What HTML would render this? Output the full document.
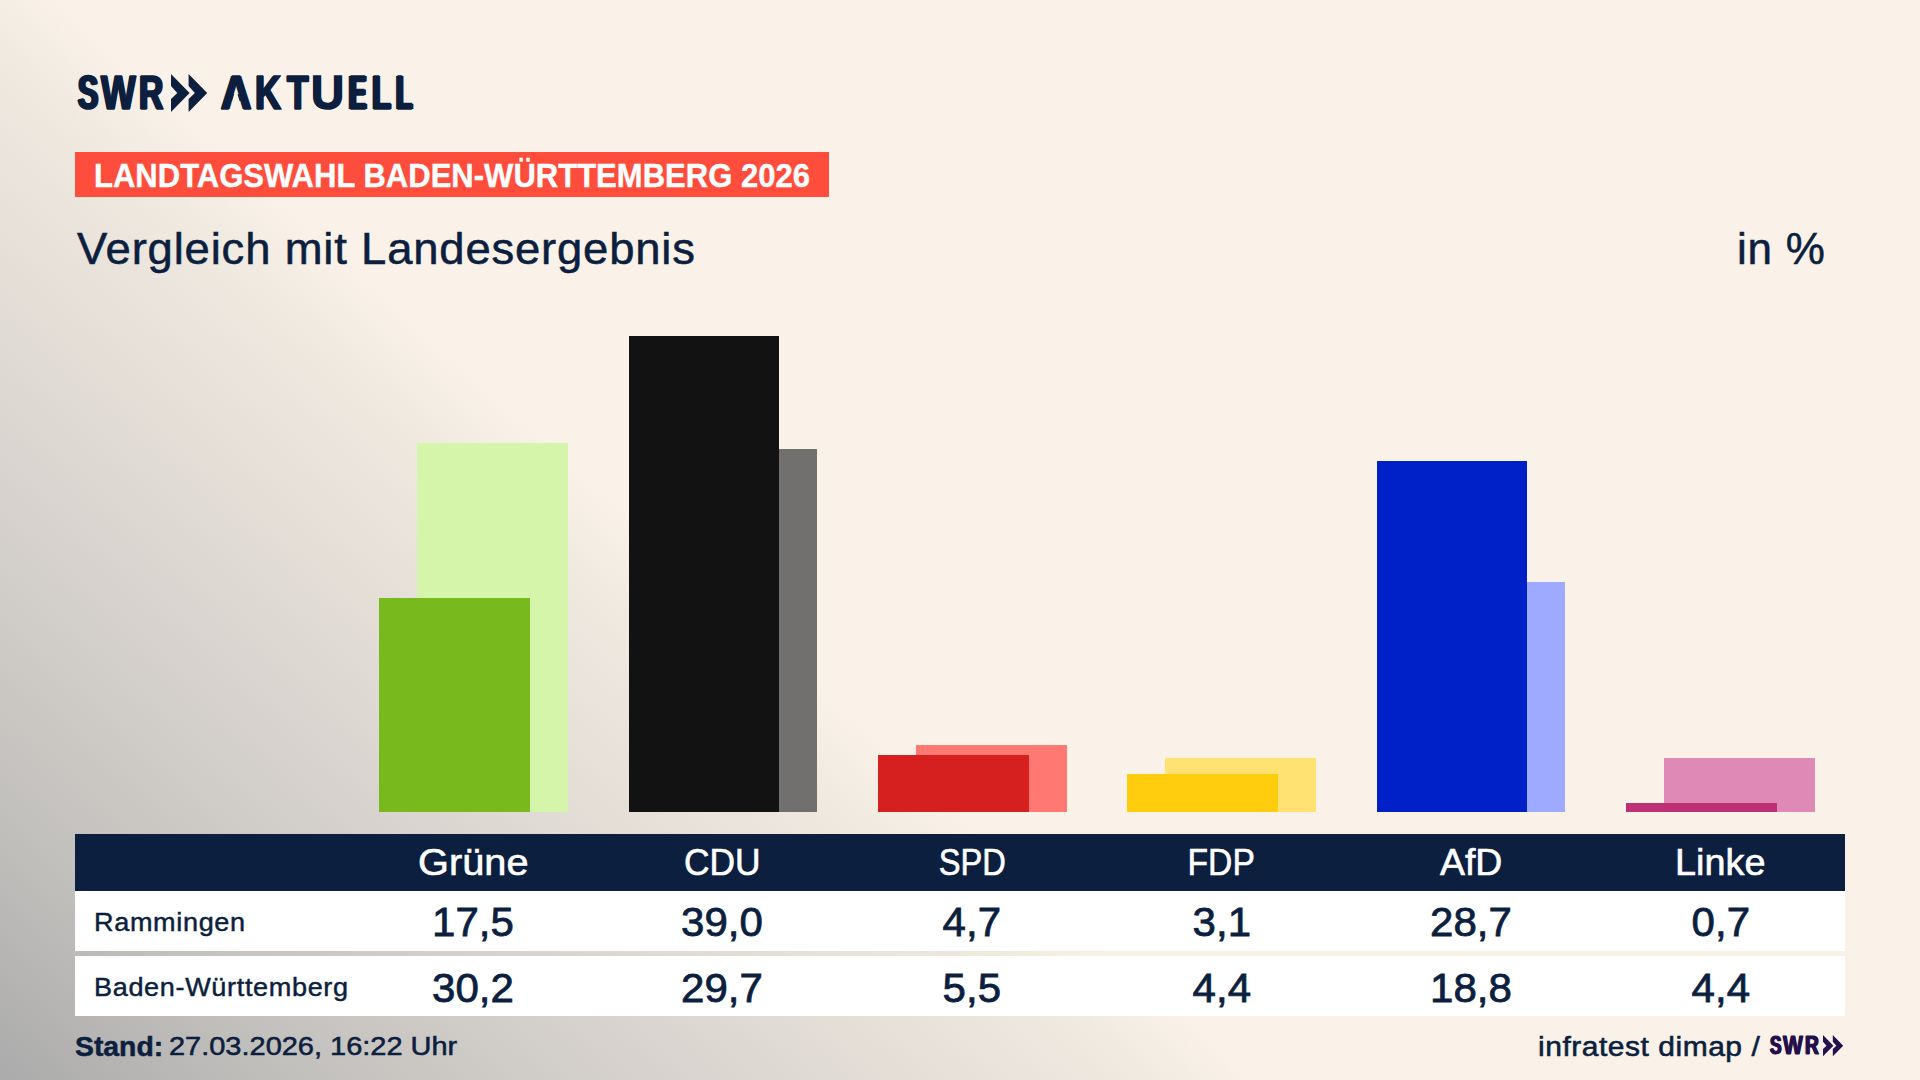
<!DOCTYPE html>
<html lang="de">
<head>
<meta charset="utf-8">
<title>Landtagswahl Baden-Württemberg 2026 – Vergleich mit Landesergebnis</title>
<style>
*{margin:0;padding:0;box-sizing:border-box}
html,body{width:1920px;height:1080px;overflow:hidden}
body{position:relative;font-family:"Liberation Sans",sans-serif;color:#0c1f3f;background:#faf2e8}
.bg{position:absolute;left:0;top:0;width:1920px;height:1080px;
 background:linear-gradient(42deg,#ababab 0%,#c1bfbc 9.25%,#d0ccc8 17.1%,#dcd7d1 24.2%,#f0e9e0 36.4%,#faf2e8 40.3%,#faf2e8 100%);}
.abs{position:absolute;white-space:nowrap;line-height:1}
.sx{display:inline-block;transform-origin:0 0;white-space:nowrap}
.sc{display:inline-block;transform-origin:50% 0;white-space:nowrap}
/* logo */
.lg{position:absolute;display:block;font-weight:bold;font-size:47.5px;line-height:1;-webkit-text-stroke:1.6px #0c1f3f;transform-origin:0 0;white-space:nowrap}
#chev{position:absolute;left:171.4px;top:73.7px}
/* banner */
#banner{position:absolute;left:75px;top:152px;width:754px;height:44.5px;background:#fe4d3c}
#banner-t{left:93.8px;top:158.9px;font-weight:bold;font-size:33.6px;color:#fff;-webkit-text-stroke:.4px #fff}
#title{left:77px;top:227.2px;font-size:43.7px;letter-spacing:.8px;-webkit-text-stroke:.55px #0c1f3f}
#inpct{left:1737px;top:227.2px;font-size:44.5px;letter-spacing:.8px;-webkit-text-stroke:.55px #0c1f3f}
/* bars */
.bar{position:absolute;width:150.7px}
/* table */
#thead{position:absolute;left:75px;top:834px;width:1770px;height:57px;background:#0c1f3f}
.row{position:absolute;left:75px;width:1770px;background:#fff}
#row1{top:890.5px;height:60.5px}
#row2{top:956px;height:60px}
.hl{position:absolute;top:845.4px;width:260px;text-align:center;font-size:36.2px;color:#fff;-webkit-text-stroke:.6px #fff;line-height:1;white-space:nowrap}
.v{position:absolute;width:260px;text-align:center;font-size:40px;-webkit-text-stroke:.8px #0c1f3f;line-height:1;white-space:nowrap}
.r1{top:902.1px}.r2{top:967.5px}
.rl{position:absolute;left:94px;font-size:24.9px;letter-spacing:.6px;-webkit-text-stroke:.45px #0c1f3f;line-height:1;white-space:nowrap}
#stand{left:75px;top:1033.8px;font-size:27px;font-weight:bold;-webkit-text-stroke:.5px #0c1f3f}
#standd{left:169.3px;top:1033.4px;font-size:26px;-webkit-text-stroke:.55px #0c1f3f}
#src{left:1538px;top:1031.7px;font-size:28.4px;letter-spacing:.5px;-webkit-text-stroke:.6px #0c1f3f}
.lgs{font-size:26.4px;-webkit-text-stroke:.9px #24104a;color:#24104a}
#chev2{position:absolute;left:1823.4px;top:1034.5px}
</style>
</head>
<body>
<div class="bg"></div>

<!-- logo -->
<div id="logo-swr"><span class="lg" style="left:77.99px;top:69.3px;transform:scaleX(0.636);text-shadow:2.37px 0 0 #0c1f3f,-2.37px 0 0 #0c1f3f;">S</span><span class="lg" style="left:100.92px;top:69.3px;transform:scaleX(0.772);text-shadow:1.23px 0 0 #0c1f3f,-1.23px 0 0 #0c1f3f;">W</span><span class="lg" style="left:138.76px;top:69.3px;transform:scaleX(0.706);text-shadow:1.73px 0 0 #0c1f3f,-1.73px 0 0 #0c1f3f;">R</span></div>
<svg id="chev" width="37" height="38" viewBox="0 0 37 38"><g fill="#0c1f3f"><polygon points="0,0 18.6,19 0,38 0,25 6.3,19 0,12"/><polygon points="17.6,0 36.2,19 17.6,38 17.6,25 23.9,19 17.6,12"/></g></svg>
<div id="logo-akt"><span class="lg" style="left:220.87px;top:69.3px;transform:scaleX(0.878);text-shadow:1.79px 0 0 #0c1f3f,-1.79px 0 0 #0c1f3f;">A</span><span class="lg" style="left:255.03px;top:69.3px;transform:scaleX(0.756);text-shadow:1.34px 0 0 #0c1f3f,-1.34px 0 0 #0c1f3f;">K</span><span class="lg" style="left:287.27px;top:69.3px;transform:scaleX(0.740);text-shadow:1.46px 0 0 #0c1f3f,-1.46px 0 0 #0c1f3f;">T</span><span class="lg" style="left:311.04px;top:69.3px;transform:scaleX(0.964);text-shadow:0.18px 0 0 #0c1f3f,-0.18px 0 0 #0c1f3f;">U</span><span class="lg" style="left:348.93px;top:69.3px;transform:scaleX(0.542);text-shadow:3.48px 0 0 #0c1f3f,-3.48px 0 0 #0c1f3f;">E</span><span class="lg" style="left:372.20px;top:69.3px;transform:scaleX(0.654);text-shadow:2.20px 0 0 #0c1f3f,-2.20px 0 0 #0c1f3f;">L</span><span class="lg" style="left:396.30px;top:69.3px;transform:scaleX(0.563);text-shadow:3.21px 0 0 #0c1f3f,-3.21px 0 0 #0c1f3f;">L</span></div>
<div class="bg" style="clip-path:polygon(234.6px 92.8px,237.1px 92.8px,239.9px 102.3px,231.8px 102.3px)"></div>

<!-- banner -->
<div id="banner"></div>
<div class="abs" id="banner-t"><span class="sx" style="transform:scaleX(.924)">LANDTAGSWAHL BADEN-WÜRTTEMBERG 2026</span></div>
<div class="abs" id="title"><span class="sx" style="transform:scaleX(1.039)">Vergleich mit Landesergebnis</span></div>
<div class="abs" id="inpct"><span class="sx" style="transform:scaleX(.988)">in %</span></div>

<!-- bars -->
<div class="bar" style="left:417px;top:443.1px;height:368.9px;background:#d5f5ab"></div>
<div class="bar" style="left:379px;top:598.2px;height:213.8px;background:#78ba1e"></div>
<div class="bar" style="left:666.7px;top:449.2px;height:362.8px;background:#72706f"></div>
<div class="bar" style="left:628.7px;top:335.6px;height:476.4px;background:#121212"></div>
<div class="bar" style="left:916px;top:744.8px;height:67.2px;background:#ff7872"></div>
<div class="bar" style="left:878px;top:754.6px;height:57.4px;background:#d61f1f"></div>
<div class="bar" style="left:1165.2px;top:758.3px;height:53.7px;background:#ffe272"></div>
<div class="bar" style="left:1127.2px;top:774.1px;height:37.9px;background:#ffcd0d"></div>
<div class="bar" style="left:1414.8px;top:582.4px;height:229.6px;background:#9daaff"></div>
<div class="bar" style="left:1376.8px;top:461.4px;height:350.6px;background:#0021c8"></div>
<div class="bar" style="left:1664px;top:758.3px;height:53.7px;background:#df8ab6"></div>
<div class="bar" style="left:1626px;top:803.4px;height:8.6px;background:#be3075"></div>

<!-- table -->
<div id="thead"></div>
<div class="row" id="row1"></div>
<div class="row" id="row2"></div>
<div class="hl" style="left:343.3px"><span class="sc" style="transform:scaleX(1.097)">Grüne</span></div>
<div class="v r1" style="left:343.3px"><span class="sc" style="transform:scaleX(1.05)">17,5</span></div>
<div class="v r2" style="left:343.3px"><span class="sc" style="transform:scaleX(1.05)">30,2</span></div>
<div class="hl" style="left:592.4px"><span class="sc" style="transform:scaleX(0.977)">CDU</span></div>
<div class="v r1" style="left:592.4px"><span class="sc" style="transform:scaleX(1.05)">39,0</span></div>
<div class="v r2" style="left:592.4px"><span class="sc" style="transform:scaleX(1.05)">29,7</span></div>
<div class="hl" style="left:842.2px"><span class="sc" style="transform:scaleX(0.902)">SPD</span></div>
<div class="v r1" style="left:842.2px"><span class="sc" style="transform:scaleX(1.05)">4,7</span></div>
<div class="v r2" style="left:842.2px"><span class="sc" style="transform:scaleX(1.05)">5,5</span></div>
<div class="hl" style="left:1091.4px"><span class="sc" style="transform:scaleX(0.929)">FDP</span></div>
<div class="v r1" style="left:1091.4px"><span class="sc" style="transform:scaleX(1.05)">3,1</span></div>
<div class="v r2" style="left:1091.4px"><span class="sc" style="transform:scaleX(1.05)">4,4</span></div>
<div class="hl" style="left:1341.2px"><span class="sc" style="transform:scaleX(1.033)">AfD</span></div>
<div class="v r1" style="left:1341.2px"><span class="sc" style="transform:scaleX(1.05)">28,7</span></div>
<div class="v r2" style="left:1341.2px"><span class="sc" style="transform:scaleX(1.05)">18,8</span></div>
<div class="hl" style="left:1590.6px"><span class="sc" style="transform:scaleX(1.044)">Linke</span></div>
<div class="v r1" style="left:1590.6px"><span class="sc" style="transform:scaleX(1.05)">0,7</span></div>
<div class="v r2" style="left:1590.6px"><span class="sc" style="transform:scaleX(1.05)">4,4</span></div>
<div class="rl" style="top:909.7px"><span class="sx" style="transform:scaleX(1.087)">Rammingen</span></div>
<div class="rl" style="top:975.2px"><span class="sx" style="transform:scaleX(1.087)">Baden-Württemberg</span></div>

<div class="abs" id="stand"><span class="sx" style="transform:scaleX(1.05)">Stand:</span></div>
<div class="abs" id="standd"><span class="sx" style="transform:scaleX(1.114)">27.03.2026, 16:22 Uhr</span></div>
<div class="abs" id="src"><span class="sx" style="transform:scaleX(1.056)">infratest dimap /</span></div>
<div id="logo-sm"><span class="lg lgs" style="left:1769.93px;top:1032.3px;transform:scaleX(0.651);text-shadow:1.22px 0 0 #24104a,-1.22px 0 0 #24104a;">S</span><span class="lg lgs" style="left:1782.87px;top:1032.3px;transform:scaleX(0.795);text-shadow:0.59px 0 0 #24104a,-0.59px 0 0 #24104a;">W</span><span class="lg lgs" style="left:1804.72px;top:1032.3px;transform:scaleX(0.725);text-shadow:0.87px 0 0 #24104a,-0.87px 0 0 #24104a;">R</span></div>
<svg id="chev2" width="20.2" height="21.3" viewBox="0 0 36.2 38"><g fill="#24104a"><polygon points="0,0 18.6,19 0,38 0,25 6.3,19 0,12"/><polygon points="17.6,0 36.2,19 17.6,38 17.6,25 23.9,19 17.6,12"/></g></svg>
</body>
</html>
